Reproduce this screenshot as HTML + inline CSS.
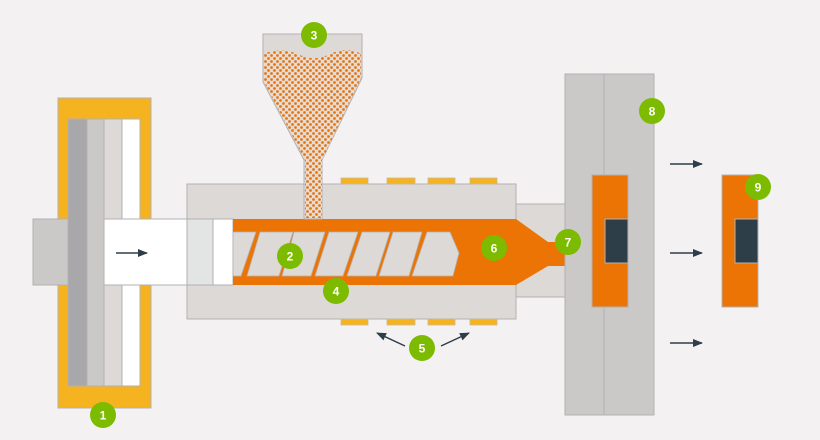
<!DOCTYPE html>
<html><head><meta charset="utf-8"><style>
html,body{margin:0;padding:0;background:#f3f1f2;}
svg{display:block;font-family:"Liberation Sans",sans-serif;}
</style></head><body>
<svg width="820" height="440" viewBox="0 0 820 440" xmlns="http://www.w3.org/2000/svg">
<defs>
<pattern id="dots" width="6" height="6" patternUnits="userSpaceOnUse">
<rect width="6" height="6" fill="#e6dcd6"/>
<circle cx="1.5" cy="1.5" r="1.4" fill="#ec7405"/>
<circle cx="4.5" cy="4.5" r="1.4" fill="#ec7405"/>
</pattern>
<marker id="ah" markerWidth="10" markerHeight="8" refX="9" refY="4" orient="auto" markerUnits="userSpaceOnUse">
<path d="M0,0 L10,4 L0,8 z" fill="#2d3e48"/>
</marker>
</defs>
<g stroke="#b3b1b1" stroke-width="1">
<rect x="58" y="98" width="93" height="310" fill="#f6b320"/>
<rect x="68" y="119" width="19" height="267" fill="#a8a8aa"/>
<rect x="87" y="119" width="17" height="267" fill="#cbc8c8"/>
<rect x="104" y="119" width="18" height="267" fill="#dcd9d7"/>
<rect x="122" y="119" width="18" height="267" fill="#ffffff"/>
<rect x="33" y="219" width="35" height="66" fill="#cbc8c8"/>
<rect x="104" y="219" width="83" height="66" fill="#ffffff"/>
<rect x="187" y="184" width="329" height="135" fill="#dcd9d7"/>
<rect x="516" y="204" width="49" height="93" fill="#dcd9d7"/>
<rect x="187" y="219" width="26" height="66" fill="#e3e4e4"/>
<rect x="213" y="219" width="20" height="66" fill="#ffffff"/>
</g>
<path d="M233,219 L516,219 L548,242 L566,242 L566,266 L548,266 L516,285 L233,285 z" fill="#ec7405"/>
<g fill="#dcd9d7" stroke="#b3b1b1" stroke-width="0.8">
<path d="M233,232 L256,232 L241,276 L233,276 z"/>
<path d="M260,232 L293,232 L279,276 L247,276 z"/>
<path d="M294,232 L325,232 L311,276 L282,276 z"/>
<path d="M329,232 L358,232 L343,276 L315,276 z"/>
<path d="M362,232 L390,232 L376,276 L347,276 z"/>
<path d="M393,232 L422,232 L409,276 L379,276 z"/>
<path d="M427,232 L450,232 L459,253 L453,276 L412,276 z"/>
</g>
<g fill="#f6b320" stroke="#c9b89a" stroke-width="0.8">
<rect x="341" y="178" width="27" height="6"/><rect x="387" y="178" width="28" height="6"/><rect x="428" y="178" width="27" height="6"/><rect x="470" y="178" width="27" height="6"/>
<rect x="341" y="319" width="27" height="6"/><rect x="387" y="319" width="28" height="6"/><rect x="428" y="319" width="27" height="6"/><rect x="470" y="319" width="27" height="6"/>
</g>
<path d="M263,34 L362,34 L362,78 L322,160 L322,219 L304,219 L304,160 L263,82 z" fill="#dcd9d7" stroke="#b3b1b1"/>
<path d="M264,54 Q280,46 300,55 Q314,62 330,54 Q348,46 361,54 L361,78 L322,160 L322,218 L305,218 L305,160 L264,82 z" fill="url(#dots)"/>
<g stroke="#b3b1b1">
<rect x="565" y="74" width="89" height="341" fill="#cbc8c8"/>
<line x1="604" y1="74" x2="604" y2="415"/>
<rect x="592" y="175" width="36" height="132" fill="#ec7405"/>
<rect x="605" y="219" width="23" height="44" fill="#2d3e48"/>
<rect x="722" y="175" width="36" height="132" fill="#ec7405"/>
<rect x="735" y="219" width="23" height="44" fill="#2d3e48"/>
</g>
<g stroke="#2d3e48" stroke-width="1.5" marker-end="url(#ah)">
<line x1="116" y1="253" x2="147" y2="253"/>
<line x1="670" y1="164" x2="702" y2="164"/>
<line x1="670" y1="253" x2="702" y2="253"/>
<line x1="670" y1="343" x2="702" y2="343"/>
<line x1="405" y1="346" x2="377" y2="333"/>
<line x1="441" y1="346" x2="469" y2="333"/>
</g>
<g font-size="12" font-weight="bold" fill="#fff" text-anchor="middle">
<g><circle cx="103" cy="415" r="13" fill="#7dbb00"/><text x="103" y="419.5">1</text></g>
<g><circle cx="290" cy="256" r="13" fill="#7dbb00"/><text x="290" y="260.5">2</text></g>
<g><circle cx="314" cy="35" r="13" fill="#7dbb00"/><text x="314" y="39.5">3</text></g>
<g><circle cx="336" cy="291" r="13" fill="#7dbb00"/><text x="336" y="295.5">4</text></g>
<g><circle cx="422" cy="348" r="13" fill="#7dbb00"/><text x="422" y="352.5">5</text></g>
<g><circle cx="494" cy="248" r="13" fill="#7dbb00"/><text x="494" y="252.5">6</text></g>
<g><circle cx="568" cy="242" r="13" fill="#7dbb00"/><text x="568" y="246.5">7</text></g>
<g><circle cx="652" cy="111" r="13" fill="#7dbb00"/><text x="652" y="115.5">8</text></g>
<g><circle cx="758" cy="187" r="13" fill="#7dbb00"/><text x="758" y="191.5">9</text></g>
</g>
</svg>
</body></html>
